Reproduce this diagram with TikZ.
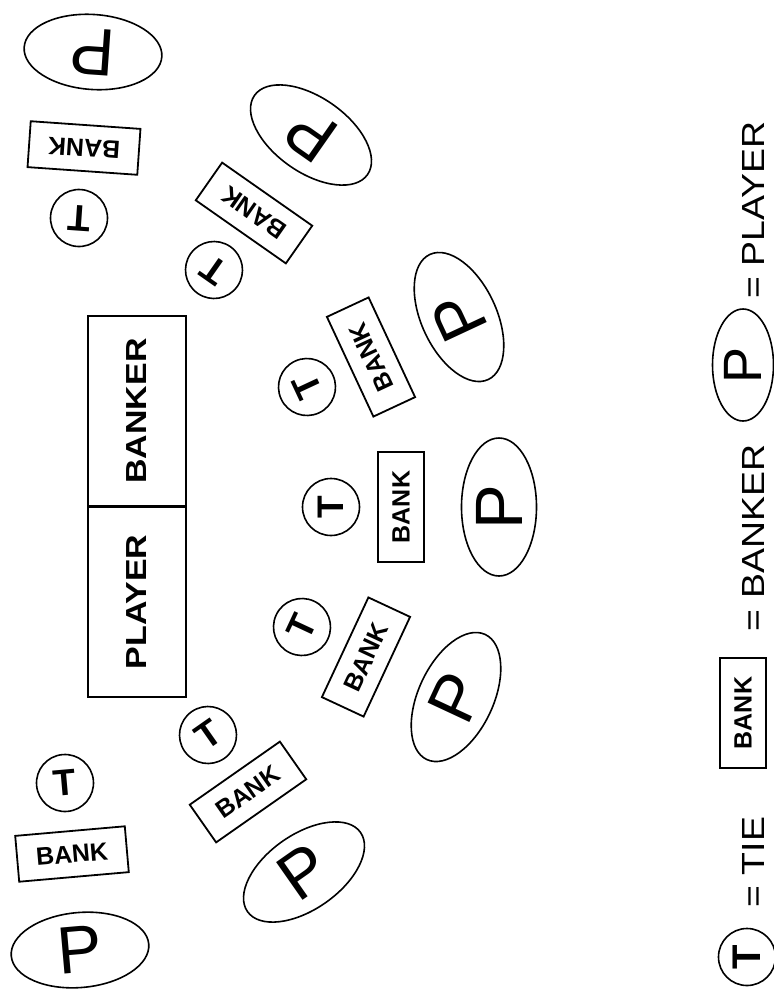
\documentclass[tikz,border=0pt]{standalone}
\usepackage{fontspec}
\setmainfont{Liberation Sans}
\newfontfamily\widefont[FakeStretch=1.17]{Liberation Sans}
\usetikzlibrary{shapes.geometric}

\begin{document}
\begin{tikzpicture}[
      x=1pt, y=-1pt,
      tie/.style={draw, circle, line width=1.6pt, minimum size=57pt, inner sep=0pt, font=\fontsize{37}{37}\selectfont\bfseries},
      bet/.style={draw, line width=1.8pt, minimum width=110pt, minimum height=46pt, inner sep=0pt, font=\fontsize{25}{25}\selectfont\bfseries},
      plr/.style={draw, ellipse, line width=1.6pt, minimum width=138pt, minimum height=75pt, inner sep=0pt, font=\fontsize{67}{67}\selectfont},
      half/.style={draw, line width=1.8pt, rotate=90, minimum width=190pt, minimum height=98pt, inner sep=0pt, font=\widefont\fontsize{29}{29}\selectfont\bfseries},
      key/.style={rotate=90, inner sep=0pt, font=\widefont\fontsize{32}{32}\selectfont}
    ]
    \useasboundingbox (0,0) rectangle (774,989);

    \node[half] (plbox) at (137,602) {PLAYER};
    \node[half] (bkbox) at (137,411) {BANKER};

    \node[tie, rotate=5] (t1) at (65,783) {T};
    \node[bet, rotate=5] (b1) at (72,854) {BANK};
    \node[plr, rotate=5] (p1) at (80,950) {P};

    \node[tie, rotate=35] (t2) at (208,735) {T};
    \node[bet, rotate=35] (b2) at (248,792) {BANK};
    \node[plr, rotate=35] (p2) at (304,872) {P};

    \node[tie, rotate=65] (t3) at (302,627) {T};
    \node[bet, rotate=65] (b3) at (366,657) {BANK};
    \node[plr, rotate=65] (p3) at (456,697) {P};

    \node[tie, rotate=90] (t4) at (331,507) {T};
    \node[bet, rotate=90] (b4) at (401,507) {BANK};
    \node[plr, rotate=90] (p4) at (499,507) {P};

    \node[tie, rotate=115] (t5) at (307,387) {T};
    \node[bet, rotate=115] (b5) at (371,357) {BANK};
    \node[plr, rotate=115] (p5) at (459,317) {P};

    \node[tie, rotate=145] (t6) at (214,270) {T};
    \node[bet, rotate=145] (b6) at (254,213) {BANK};
    \node[plr, rotate=145] (p6) at (311,135) {P};

    \node[tie, rotate=176] (t7) at (79,218) {T};
    \node[bet, rotate=176] (b7) at (84,148) {BANK};
    \node[plr, rotate=176] (p7) at (93,52) {P};

    \node[tie, rotate=90, font=\fontsize{40}{40}\selectfont\bfseries] (keyt) at (747,957) {T};
    \node[key] (keyttxt) at (753,862) {= TIE};
    \node[bet, rotate=90] (keyb) at (743,713) {BANK};
    \node[key] (keybtxt) at (753,538) {= BANKER};
    \node[plr, rotate=90, minimum width=112pt, minimum height=61pt, font=\fontsize{54}{54}\selectfont] (keyp) at (743,365) {P};
    \node[key] (keyptxt) at (753,210) {= PLAYER};
  \end{tikzpicture}
\end{document}
